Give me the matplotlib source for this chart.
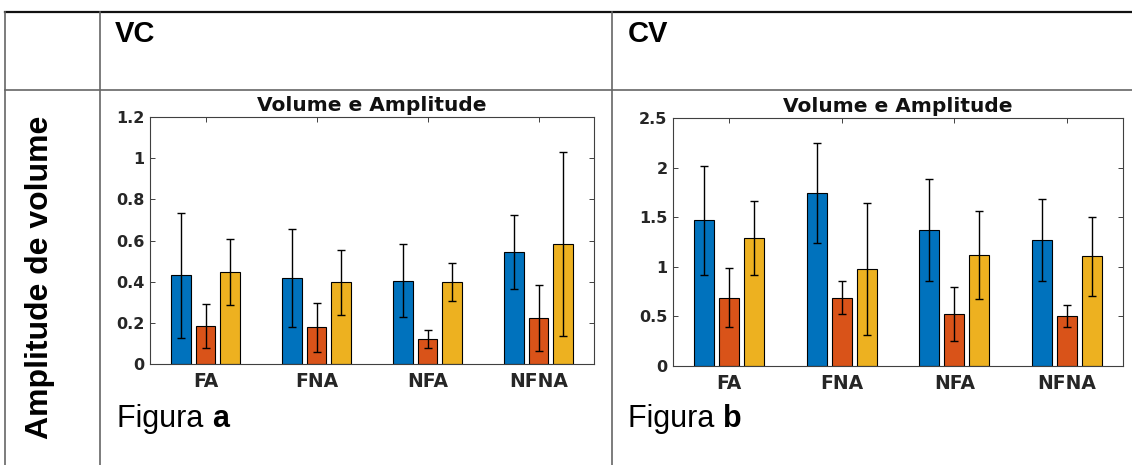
import matplotlib
matplotlib.use("Agg")
import matplotlib.pyplot as plt
import numpy as np
from matplotlib.lines import Line2D

categories = ["FA", "FNA", "NFA", "NFNA"]
series_colors = ["#0072BD", "#D95319", "#EDB120"]

# Figura a (VC)
vc_blue = [0.43, 0.417, 0.405, 0.544]
vc_blue_err = [0.304, 0.237, 0.177, 0.179]
vc_orange = [0.185, 0.178, 0.121, 0.223]
vc_orange_err = [0.107, 0.12, 0.044, 0.16]
vc_yellow = [0.445, 0.396, 0.397, 0.583]
vc_yellow_err = [0.16, 0.16, 0.093, 0.446]

# Figura b (CV)
cv_blue = [1.468, 1.744, 1.374, 1.267]
cv_blue_err = [0.55, 0.5, 0.514, 0.413]
cv_orange = [0.689, 0.689, 0.528, 0.504]
cv_orange_err = [0.30, 0.163, 0.272, 0.111]
cv_yellow = [1.29, 0.978, 1.122, 1.106]
cv_yellow_err = [0.37, 0.664, 0.445, 0.40]

W, H = 1132, 465
fig = plt.figure(figsize=(W / 100, H / 100), dpi=100)
fig.patch.set_facecolor("white")


def px_ax(l, t, r, b):
    return [l / W, (H - b) / H, (r - l) / W, (b - t) / H]


def draw_chart(ax, vals, errs, ymax, yticks, yticklabels):
    x = np.arange(1, len(categories) + 1)
    n = len(vals)
    slot = 0.6667 / n
    width = slot * 0.8
    for i in range(n):
        pos = x + (i - (n - 1) / 2) * slot
        ax.bar(pos, vals[i], width=width, color=series_colors[i],
               edgecolor="black", linewidth=0.8, zorder=2)
        ax.errorbar(pos, vals[i], yerr=errs[i], fmt="none", ecolor="black",
                    elinewidth=1.0, capsize=3, capthick=1.0, zorder=3)
    ax.set_xlim(0.5, 4.5)
    ax.set_ylim(0, ymax)
    ax.set_xticks(x)
    ax.set_xticklabels(categories, fontfamily="DejaVu Sans", fontweight="bold",
                       fontsize=13.5, color="#262626")
    ax.set_yticks(yticks)
    ax.set_yticklabels(yticklabels, fontfamily="DejaVu Sans", fontweight="bold",
                       fontsize=11.5, color="#262626")
    ax.tick_params(axis="both", direction="in", length=3.5, width=0.7,
                   color="#404040", top=True, right=True)
    ax.tick_params(axis="x", pad=6)
    ax.tick_params(axis="y", pad=4)
    for s in ax.spines.values():
        s.set_color("#404040")
        s.set_linewidth(0.8)
    ax.set_title("Volume e Amplitude", fontfamily="DejaVu Sans",
                 fontweight="bold", fontsize=14.5, pad=4, color="#111111")


ax1 = fig.add_axes(px_ax(150, 117, 594, 364))
draw_chart(ax1, [vc_blue, vc_orange, vc_yellow],
           [vc_blue_err, vc_orange_err, vc_yellow_err], 1.2,
           [0, 0.2, 0.4, 0.6, 0.8, 1.0, 1.2],
           ["0", "0.2", "0.4", "0.6", "0.8", "1", "1.2"])

ax2 = fig.add_axes(px_ax(673, 118, 1123, 366))
draw_chart(ax2, [cv_blue, cv_orange, cv_yellow],
           [cv_blue_err, cv_orange_err, cv_yellow_err], 2.5,
           [0, 0.5, 1.0, 1.5, 2.0, 2.5],
           ["0", "0.5", "1", "1.5", "2", "2.5"])


# table lines
def hline(y, x0, x1, lw, color):
    fig.add_artist(Line2D([x0 / W, x1 / W], [1 - y / H, 1 - y / H],
                          transform=fig.transFigure, color=color, lw=lw))


def vline(x, y0, y1, lw, color):
    fig.add_artist(Line2D([x / W, x / W], [1 - y0 / H, 1 - y1 / H],
                          transform=fig.transFigure, color=color, lw=lw))


hline(12, 5, W, 1.6, "#111111")
hline(90, 5, W, 1.2, "#666666")
vline(5, 12, H, 1.2, "#666666")
vline(100, 12, H, 1.2, "#666666")
vline(612, 12, H, 1.2, "#666666")

sans = "Liberation Sans"
fig.text(115 / W, 1 - 42 / H, "VC", fontfamily=sans, fontweight="bold",
         fontsize=21, va="baseline", ha="left")
fig.text(628 / W, 1 - 42 / H, "CV", fontfamily=sans, fontweight="bold",
         fontsize=21, va="baseline", ha="left")

fig.text(40 / W, 1 - 277 / H, "Amplitude de volume", fontfamily=sans,
         fontweight="bold", fontsize=23, rotation=90, va="center", ha="center")

renderer = fig.canvas.get_renderer()
for xp, letter in [(117, "a"), (628, "b")]:
    t = fig.text(xp / W, 1 - 427 / H, "Figura ", fontfamily=sans,
                 fontsize=22, va="baseline", ha="left")
    bb = t.get_window_extent(renderer=renderer)
    fig.text(bb.x1 / W, 1 - 427 / H, letter, fontfamily=sans,
             fontweight="bold", fontsize=22, va="baseline", ha="left")

fig.savefig("out.png", dpi=100, facecolor="white")
